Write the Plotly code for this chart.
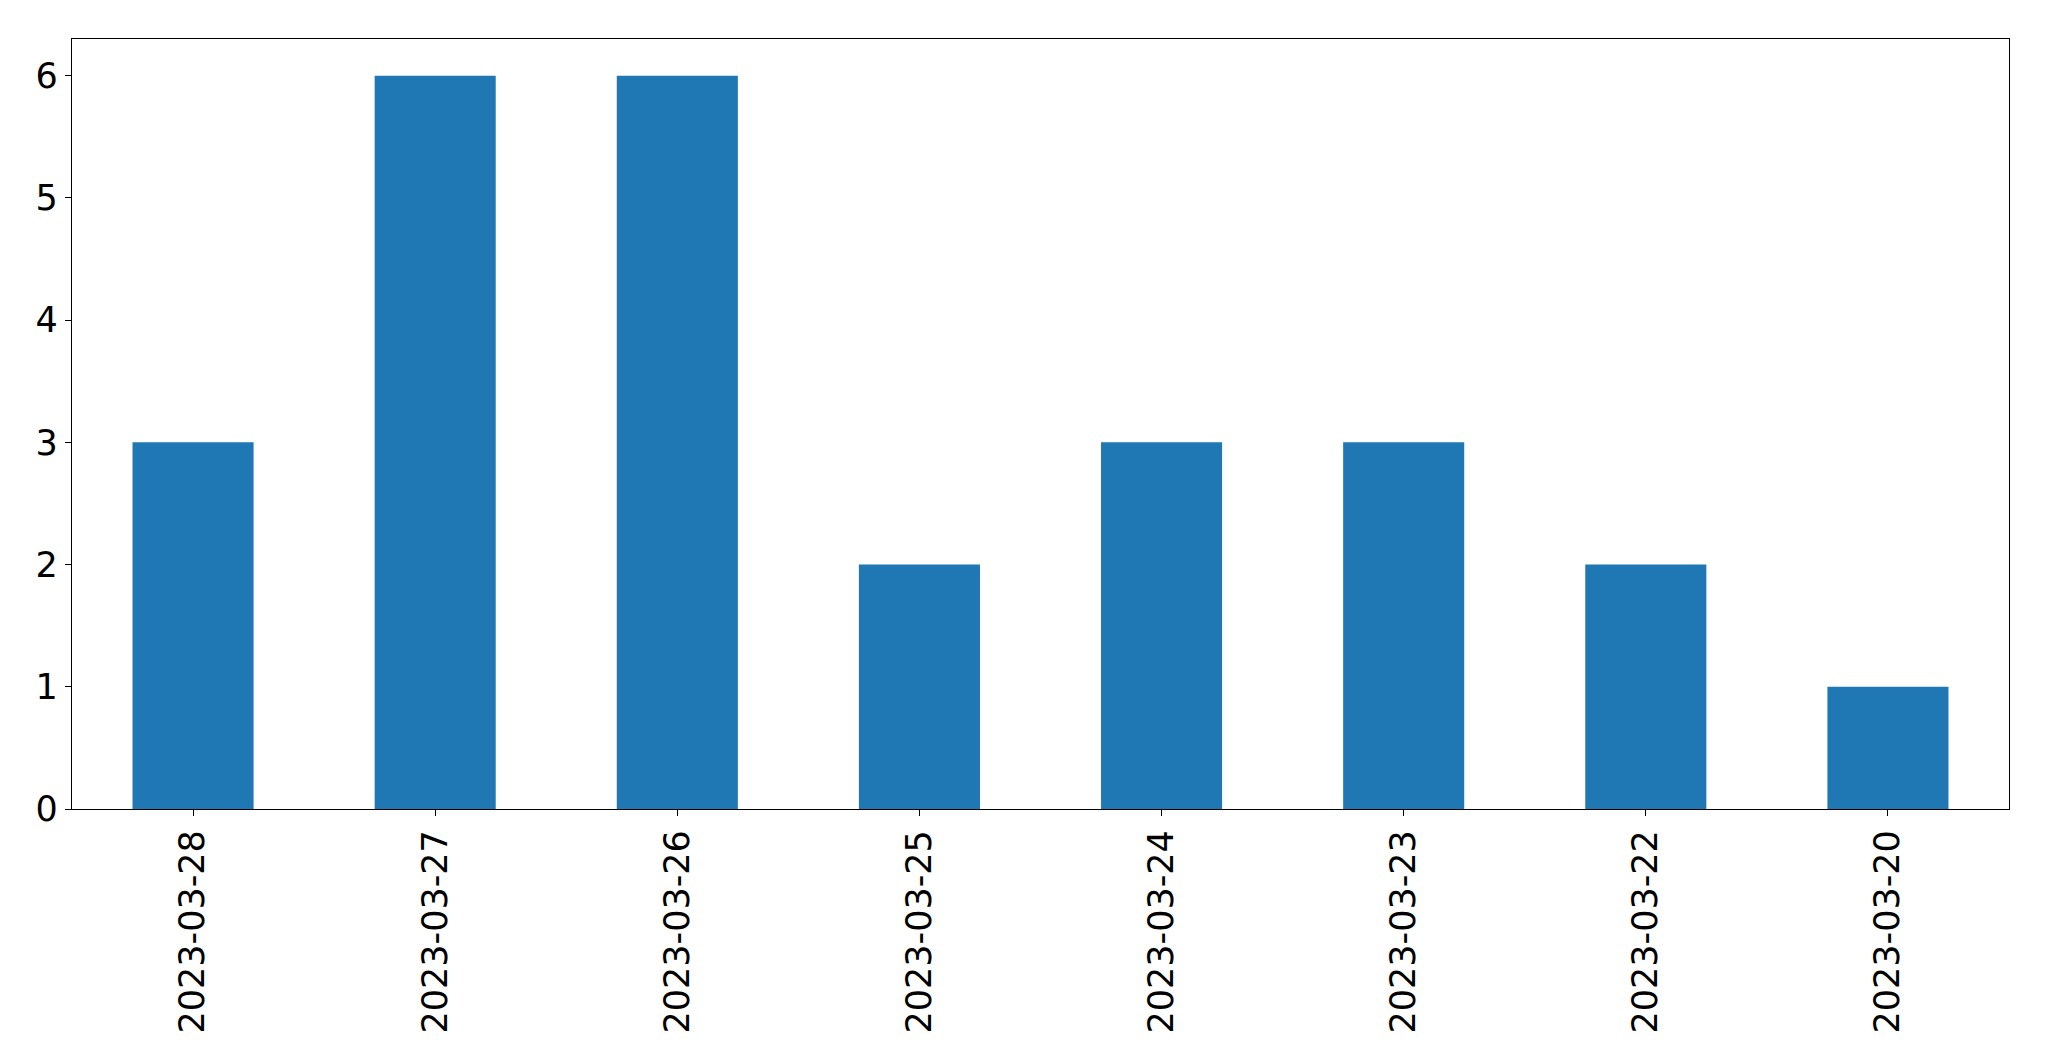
import plotly.graph_objects as go

dates = ["2023-03-28", "2023-03-27", "2023-03-26", "2023-03-25",
         "2023-03-24", "2023-03-23", "2023-03-22", "2023-03-20"]
counts = [3, 6, 6, 2, 3, 3, 2, 1]
y_ticks = [0, 1, 2, 3, 4, 5, 6]

fig = go.Figure()
fig.add_trace(go.Bar(x=dates, y=counts, marker=dict(color="#1f77b4", line=dict(width=0)),
                     width=0.5))

font = dict(family="DejaVu Sans", size=35, color="black")
fig.update_layout(
    width=2041, height=1053,
    margin=dict(l=64, r=40, t=31, b=252, pad=0),
    paper_bgcolor="white", plot_bgcolor="white",
    showlegend=False,
    font=font,
    bargap=0.5,
)
fig.update_xaxes(
    type="category", range=[-0.5, 7.5], tickangle=-90,
    showline=True, mirror=True, linecolor="black", linewidth=1.3,
    ticks="outside", ticklen=6, tickwidth=1.3, tickcolor="black",
    showgrid=False, zeroline=False, tickfont=font,
)
fig.update_yaxes(
    range=[0, 6.3], tickvals=y_ticks,
    showline=True, mirror=True, linecolor="black", linewidth=1.3,
    ticks="outside", ticklen=6, tickwidth=1.3, tickcolor="black",
    showgrid=False, zeroline=False, tickfont=font,
)
fig.write_html("out.html")
